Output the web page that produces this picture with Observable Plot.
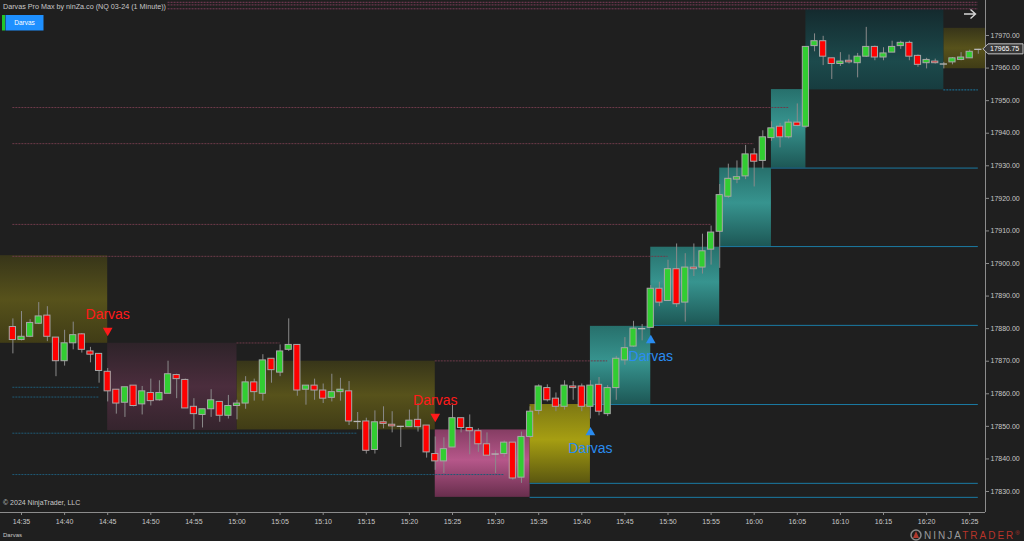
<!DOCTYPE html>
<html><head><meta charset="utf-8">
<script src="https://cdn.jsdelivr.net/npm/d3@7"></script>
<script src="https://cdn.jsdelivr.net/npm/@observablehq/plot@0.6"></script>
<style>
html,body{margin:0;padding:0;background:#1f1f1f;overflow:hidden}
#chart{position:relative;width:1024px;height:541px}
</style></head><body><div id="chart"></div>
<script>
// ---------- data ----------
const chartTitle = "Darvas Pro Max by ninZa.co (NQ 03-24 (1 Minute))";
const indicatorName = "Darvas";
const copyright = "© 2024 NinjaTrader, LLC";
const firstBar = "14:34";
const lastPrice = 17965.75;

const opens = [17880.5,17876.5,17877.5,17881.5,17884,17877.25,17870,17875.5,17878.25,17873,
17872.25,17866.75,17861.25,17857.25,17862.5,17856.75,17860.25,17858,17860,17865.75,
17864.25,17856,17853.5,17855.25,17857.5,17853.25,17856.25,17857,17863.5,17860,
17870.75,17866.5,17873.5,17875,17861.25,17862.5,17861,17858.75,17860.5,17860.75,
17851.5,17851.5,17842.75,17851.25,17850.5,17850,17849.75,17852,17850.25,17841.5,
17839.25,17843.5,17852.5,17849.5,17848.5,17844.5,17841.5,17841.5,17845,17834.25,
17846.75,17854.75,17861.75,17858.5,17856,17862.25,17862.25,17856,17862.75,17853.75,
17861.75,17870.25,17874.5,17880,17880.25,17892.25,17888.5,17898.25,17888,17898.75,
17898.75,17904.25,17909.75,17920.5,17925.75,17926.75,17933.5,17931.5,17938.5,17942,
17938.75,17943.25,17942,17966.75,17968.25,17963,17961.25,17962.25,17961.5,17963.5,
17966.5,17963.25,17964.75,17966.75,17967.75,17963.75,17961.5,17962,17961.25,17961.75,
17962.5,17963,17965.75];
const highs = [17883,17885.25,17882.75,17888,17886.75,17877.25,17879.5,17882,17878.5,17874.25,
17872.25,17867.75,17861.25,17862,17862.5,17862.25,17864.5,17864,17870,17866,
17864.5,17858.5,17855.25,17861.25,17857.5,17859.5,17858,17865.25,17864.5,17872,
17870.75,17875,17883,17875,17862.5,17864.5,17863,17866,17864.75,17863.75,
17854.25,17852.5,17854.75,17856,17854.5,17850,17855,17857,17850.25,17846.75,
17846.5,17856.5,17852.5,17853.5,17849.25,17848,17842.5,17845.5,17845,17848.25,
17856,17862.75,17862.75,17860.25,17864,17863.75,17863,17864,17865,17862.5,
17871.5,17877.25,17882.25,17881.25,17893.25,17894.25,17901,17906,17903,17906,
17909,17911.5,17924.25,17930.5,17931.5,17936.25,17935.25,17940.75,17943.5,17943,
17944.25,17949,17966.5,17970.5,17969.75,17963,17964.75,17964,17964.5,17972.5,
17966.75,17966.25,17968.25,17968.25,17968.25,17964,17963,17962.75,17961.75,17963.25,
17964.75,17965.5,17965.75];
const lows = [17872.25,17876.25,17877.25,17881.25,17876,17865.25,17868.5,17873.5,17872.5,17869.5,
17863.25,17857.5,17853.75,17852.75,17856,17853.5,17856.25,17857.75,17860,17858.5,
17855.5,17849,17849.5,17852.75,17851.25,17852.25,17852,17855.25,17857.75,17857.75,
17863.25,17865.25,17873,17859.25,17856.5,17858,17857,17857.5,17857.75,17850.25,
17849,17841.5,17841.5,17849.25,17848,17843.5,17849.75,17848.25,17840.25,17836.5,
17835.5,17843.5,17848,17841.25,17842,17840.75,17835.5,17840.5,17833.5,17832.5,
17846.25,17853.5,17857.5,17854.5,17855,17858,17854.5,17852.25,17853.25,17853,
17858,17868.75,17874.25,17876.25,17880.25,17886.75,17888.5,17886.5,17882,17896,
17896.75,17899.5,17898.5,17920,17924.5,17925.75,17923.5,17929,17937.5,17935.5,
17938.25,17942,17941.5,17965,17960.75,17956.5,17960.5,17961.25,17957,17963.25,
17962.25,17962.25,17964.75,17965.75,17962.25,17960.25,17959.75,17961.25,17959.75,17961,
17962.25,17963,17964.25];
const closes = [17876.5,17877.5,17881.75,17883.75,17877.5,17870,17875.5,17878,17873.5,17872,
17867,17860.75,17857,17862,17856.25,17860.75,17857.75,17860.25,17866,17864.5,
17855.5,17853.75,17855.25,17858,17853.25,17856.25,17857,17863.5,17860.5,17870.25,
17867.25,17873,17875,17861,17862.5,17861,17858.5,17860.5,17861.25,17851.5,
17851.5,17842.5,17851.25,17850.75,17850,17850,17851.75,17849.75,17842,17839.25,
17843,17852.5,17849.5,17848.5,17844.5,17841,17841.5,17845,17834,17846.75,
17854.5,17862.25,17858,17856,17862.5,17861.75,17856,17862.5,17854.5,17861.75,
17870.75,17874,17880,17880,17892.25,17888,17898.25,17887.5,17898.75,17898.25,
17903.75,17909.5,17921,17926,17926.5,17933.5,17931.25,17938.75,17941.5,17938.75,
17943.25,17942.25,17966.5,17968.25,17963.5,17961.25,17962,17961.75,17963.5,17966.5,
17963.25,17964.5,17966.5,17967.75,17963.5,17961,17962.5,17961.5,17961.25,17963,
17963.25,17965,17965.75];

const timeTicks = ["14:35","14:40","14:45","14:50","14:55","15:00","15:05","15:10","15:15","15:20","15:25","15:30",
"15:35","15:40","15:45","15:50","15:55","16:00","16:05","16:10","16:15","16:20","16:25"];
const priceTicks = [17830,17840,17850,17860,17870,17880,17890,17900,17910,17920,17930,17940,17950,17960,17970];

// Darvas boxes (bar index from firstBar)
const boxStart  = [-3, 11, 26, 49, 60, 67, 74, 82, 88, 92, 108];
const boxEnd    = [11, 26, 49, 60, 67, 74, 82, 88, 92, 108, 116];
const boxTop    = [17902.4,17875.5,17870.0,17848.9,17856.7,17880.7,17905.0,17929.3,17953.4,17977.9,17972.2];
const boxBottom = [17875.5,17848.7,17848.9,17828.2,17832.5,17856.7,17881.0,17905.2,17929.3,17953.3,17959.8];
const boxKind   = ["olive","mauve","olive","pink","yellow","teal","teal","teal","teal","darkteal","olive"];

// resistance / support levels
const resLevel  = [17980.2,17979.4,17978.2,17947.9,17936.8,17912.0,17902.2,17875.6,17870.1];
const resFrom   = [18,18,18,0,0,0,0,26,49];
const resTo     = [112,112,112,90,86,81,76,31,69];
const supLevel  = [17862.0,17859.0,17847.9,17835.2,17832.5,17828.2,17856.7,17881.0,17905.2,17929.3,17953.3];
const supFrom   = [0,0,0,0,60,60,67,74,82,88,108];
const supTo     = [10,10,40,57,112,112,112,112,112,112,112];
const supState  = ["broken","broken","broken","broken","active","active","active","active","active","active","fresh"];

// signals
const signalBar   = [11, 49, 67, 74];
const signalPrice = [17879.4, 17853.0, 17848.1, 17876.4];
const signalDir   = ["down","down","up","up"];
const signalText  = ["Darvas","Darvas","Darvas","Darvas"];

// ---------- build ----------
const toMin = s => { const [h,m] = s.split(":").map(Number); return h*60+m; };
const fmtMin = m => `${Math.floor(m/60)}:${String(m%60).padStart(2,"0")}`;
const t0 = toMin(firstBar);
const bars = opens.map((o,i)=>({t:t0+i, open:o, high:highs[i], low:lows[i], close:closes[i]}));
const up = bars.filter(d=>d.close>d.open), down = bars.filter(d=>d.close<d.open), doji = bars.filter(d=>d.close===d.open);
const boxes = boxStart.map((s,i)=>({x1:t0+s, x2:t0+boxEnd[i], y1:boxBottom[i], y2:boxTop[i], kind:boxKind[i]}));
const res = resLevel.map((v,i)=>({y:v, x1:t0+resFrom[i], x2:t0+resTo[i], active: resTo[i]===112}));
const sup = supLevel.map((v,i)=>({y:v, x1:t0+supFrom[i], x2:t0+supTo[i], state:supState[i]}));
const sig = signalBar.map((b,i)=>({x:t0+b, y:signalPrice[i], dir:signalDir[i], text:signalText[i]}));

const gradients = {
  olive:    [[0,"#373519"],[0.5,"#57521b"],[1,"#403c16"]],
  mauve:    [[0,"#2e2329"],[0.5,"#4b2d3d"],[1,"#35242d"]],
  pink:     [[0,"#853d63"],[0.45,"#b6578a"],[1,"#682e4d"]],
  yellow:   [[0,"#7d7813"],[0.45,"#a69e12"],[1,"#5b5710"]],
  teal:     [[0,"#27706c"],[0.45,"#37948f"],[1,"#1d5755"]],
  darkteal: [[0,"#142a2e"],[0.65,"#1c4a4c"],[1,"#173c3f"]]
};
const kinds = Object.keys(gradients);
const FONT = "'Liberation Sans', Arial, sans-serif";
const x0 = toMin("14:35");

const plot = Plot.plot({
  width: 1024, height: 541,
  marginLeft: 0, marginRight: 39, marginTop: 0, marginBottom: 29,
  style: {background: "#1f1f1f", color: "#c8c8c8", fontFamily: FONT, fontSize: "7px", overflow: "visible"},
  x: {type: "linear", domain: [x0 - 21/8.62, x0 - 21/8.62 + 985/8.62]},
  y: {type: "linear", domain: [17823.55, 17980.75]},
  marks: [
    ...kinds.map(k => Plot.rect(boxes.filter(d=>d.kind===k), {x1:"x1", x2:"x2", y1:"y1", y2:"y2", fill:`url(#g-${k})`, clip:true})),
    Plot.ruleY(res.filter(d=>!d.active), {y:"y", x1:"x1", x2:"x2", stroke:"#6e3b4a", strokeDasharray:"2,1"}),
    Plot.ruleY(res.filter(d=>d.active), {y:"y", x1:"x1", x2:"x2", stroke:"#7d3d5a", strokeDasharray:"2,1"}),
    Plot.ruleY(sup.filter(d=>d.state==="broken"), {y:"y", x1:"x1", x2:"x2", stroke:"#1f5a76", strokeDasharray:"2,1"}),
    Plot.ruleY(sup.filter(d=>d.state==="active"), {y:"y", x1:"x1", x2:"x2", stroke:"#1b7aa3"}),
    Plot.ruleY(sup.filter(d=>d.state==="fresh"), {y:"y", x1:"x1", x2:"x2", stroke:"#1b7aa3", strokeDasharray:"2,1"}),
    Plot.ruleX(bars, {x:"t", y1:"low", y2:"high", stroke:"#8a8a8a"}),
    Plot.rect(up, {x1:d=>d.t-0.36, x2:d=>d.t+0.36, y1:"open", y2:"close", fill:"#32cd32", stroke:"#a8a8a8"}),
    Plot.rect(down, {x1:d=>d.t-0.36, x2:d=>d.t+0.36, y1:"close", y2:"open", fill:"#ff0000", stroke:"#a8a8a8"}),
    Plot.ruleY(doji, {y:"close", x1:d=>d.t-0.42, x2:d=>d.t+0.42, stroke:"#b8b8b8", strokeWidth:1.3}),
    Plot.dot(sig.filter(d=>d.dir==="down"), {x:"x", y:"y", symbol:"triangle", rotate:180, r:3.6, fill:"#ff1a1a", stroke:"none"}),
    Plot.dot(sig.filter(d=>d.dir==="up"), {x:"x", y:"y", symbol:"triangle", r:3.6, fill:"#2a8cf0", stroke:"none"}),
    Plot.text(sig.filter(d=>d.dir==="down"), {x:"x", y:"y", text:"text", dy:-16, fill:"#ff1a1a", fontSize:14, fontFamily:FONT}),
    Plot.text(sig.filter(d=>d.dir==="up"), {x:"x", y:"y", text:"text", dy:16, fill:"#2a8cf0", fontSize:14, fontFamily:FONT}),
    Plot.ruleX([x0 - 21/8.62 + 985/8.62], {stroke:"#8c8c8c"}),
    Plot.ruleY([17823.55], {stroke:"#8c8c8c"}),
    Plot.axisY(priceTicks, {anchor:"right", tickSize:3, tickPadding:2, tickFormat:d=>d.toFixed(2), stroke:"#8c8c8c", fill:"#c8c8c8", fontSize:7, label:null}),
    Plot.axisX(timeTicks.map(toMin), {anchor:"bottom", tickSize:3, tickPadding:4, tickFormat:fmtMin, stroke:"#8c8c8c", fill:"#c8c8c8", fontSize:7, label:null})
  ]
});

const svg = d3.select(plot);
const defs = svg.insert("defs", ":first-child");
for (const k of kinds) {
  const g = defs.append("linearGradient").attr("id", `g-${k}`).attr("x1",0).attr("y1",0).attr("x2",0).attr("y2",1);
  for (const [o,c] of gradients[k]) g.append("stop").attr("offset", o).attr("stop-color", c);
}
const ys = plot.scale("y");
const deco = svg.append("g").attr("font-family", FONT).attr("text-anchor","start");
// title
deco.append("text").attr("x",3).attr("y",6).attr("dy","0.35em").attr("font-size",7.2).attr("fill","#c8c8c8").text(chartTitle);
// button
deco.append("rect").attr("x",2).attr("y",15).attr("width",3).attr("height",15.5).attr("fill","#22c52a");
deco.append("rect").attr("x",5.5).attr("y",15).attr("width",38).attr("height",15.5).attr("fill","#1e90ff");
deco.append("text").attr("x",24.5).attr("y",22.8).attr("dy","0.35em").attr("text-anchor","middle").attr("font-size",6.5).attr("fill","#ffffff").text(indicatorName);
// arrow
deco.append("path").attr("d","M964,14H975.5M970.5,9.5L975.5,14L970.5,18.5").attr("fill","none").attr("stroke","#d6d6d6").attr("stroke-width",1.4);
// last price label
const py = ys.apply(lastPrice);
deco.append("path").attr("d",`M983,${py}L988,${py-5}H1023V${py+5}H988Z`).attr("fill","#383838").attr("stroke","#c4c4c4");
deco.append("text").attr("x",990).attr("y",py).attr("dy","0.35em").attr("font-size",7).attr("fill","#ffffff").text(lastPrice.toFixed(2));
// copyright / footer
deco.append("text").attr("x",3).attr("y",503).attr("dy","0.35em").attr("font-size",7).attr("fill","#c8c8c8").text(copyright);
deco.append("text").attr("x",3).attr("y",534.5).attr("dy","0.35em").attr("font-size",6).attr("fill","#c8c8c8").text(indicatorName);
// logo
deco.append("circle").attr("cx",916).attr("cy",535).attr("r",5).attr("fill","none").attr("stroke","#8a8a8a").attr("stroke-width",1.5);
deco.append("path").attr("d","M913,538L916,531L919,538Z").attr("fill","#b03a2e");
const lt = deco.append("text").attr("x",924).attr("y",535).attr("dy","0.35em").attr("font-size",10).attr("letter-spacing","2px");
lt.append("tspan").attr("fill","#9a9a9a").text("NINJA");
lt.append("tspan").attr("fill","#b8342a").text("TRADER");
lt.append("tspan").attr("fill","#b8342a").attr("font-size",6).attr("dy","-0.6em").text("®");

document.getElementById("chart").appendChild(plot);
</script></body></html>
